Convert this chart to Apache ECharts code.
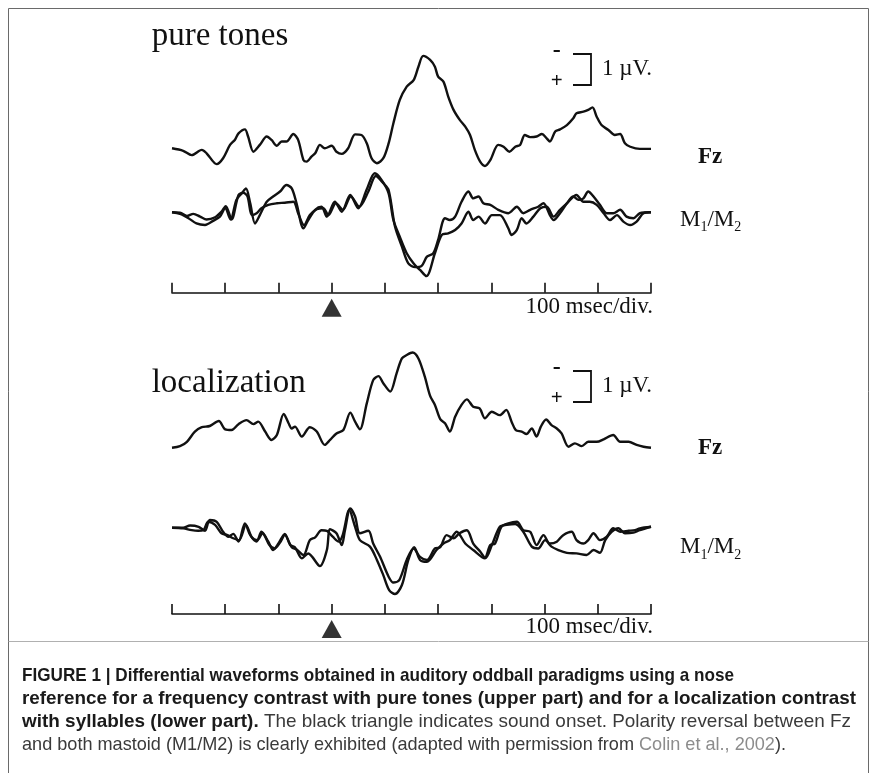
<!DOCTYPE html>
<html><head><meta charset="utf-8">
<script src="https://cdn.jsdelivr.net/npm/echarts@6/dist/echarts.min.js"></script>
<style>html,body{margin:0;padding:0;background:#fff}#c{width:883px;height:773px}</style>
</head><body><div id="c"></div>
<script>
// time axis (ms), 100 ms per division, sound onset at 0
const timeMin = -300, timeMax = 600, timeStep = 100;
const onset = [[0, 0.5]];

// values in µV (negative plotted upward)
const topFz = [[-300,0],[-279,0.08],[-263,0.22],[-244,0.05],[-235,0.16],[-216,0.51],[-204,0.32],[-191,-0.11],[-182,-0.27],[-175,-0.48],[-163,-0.61],[-157,-0.38],[-147,0.11],[-135,-0.11],[-122,-0.38],[-113,-0.27],[-103,-0.08],[-94,-0.22],[-85,-0.22],[-72,-0.46],[-63,-0.27],[-53,0.38],[-47,0.43],[-38,0.27],[-31,0.16],[-22,-0.11],[-13,0],[0,-0.08],[9,0.11],[19,0.18],[31,0],[44,-0.45],[56,-0.43],[66,-0.16],[75,0.32],[85,0.48],[97,0.32],[107,-0.16],[116,-0.81],[128,-1.56],[141,-1.99],[154,-2.2],[163,-2.63],[172,-2.98],[185,-2.85],[194,-2.63],[200,-2.31],[210,-2.15],[219,-1.67],[229,-1.24],[241,-0.91],[251,-0.7],[260,-0.43],[269,0.05],[279,0.43],[288,0.57],[298,0.38],[313,-0.11],[323,-0.05],[334,0.11],[345,-0.05],[354,-0.11],[363,-0.43],[373,-0.36],[385,-0.38],[395,-0.46],[404,-0.32],[410,-0.22],[420,-0.54],[429,-0.61],[442,-0.75],[454,-0.97],[460,-1.13],[473,-1.18],[482,-1.24],[490,-1.32],[498,-1.02],[507,-0.75],[520,-0.59],[532,-0.43],[542,-0.46],[551,-0.16],[561,-0.05],[579,0.02],[600,0.02]];

const topM1 = [[-300,0],[-285,0.05],[-269,0.19],[-254,0.36],[-238,0.41],[-222,0.27],[-210,0.14],[-200,-0.13],[-190,0.23],[-179,-0.4],[-169,-0.61],[-161,-0.77],[-153,-0.29],[-144,0.36],[-135,0.09],[-122,-0.34],[-110,-0.51],[-97,-0.67],[-85,-0.88],[-75,-0.77],[-66,-0.29],[-53,0.52],[-44,0.25],[-31,-0.08],[-19,-0.18],[-9,0.14],[6,-0.34],[19,-0.02],[35,-0.56],[50,-0.13],[66,-0.74],[81,-1.26],[94,-1.04],[107,-0.61],[116,0.25],[128,0.79],[141,1.32],[154,1.65],[166,1.86],[178,2.06],[194,1.32],[207,0.73],[219,0.68],[232,0.57],[244,0.36],[257,-0.02],[266,0.25],[276,0.14],[288,0.36],[301,0.09],[316,0.09],[332,0.52],[338,0.73],[348,0.57],[357,0.19],[366,0.36],[379,0.14],[392,-0.13],[404,-0.18],[417,0.14],[429,-0.08],[442,-0.29],[460,-0.56],[473,-0.34],[485,-0.34],[498,-0.24],[511,0.03],[523,0.25],[536,0.09],[548,0.3],[561,0.41],[573,0.3],[586,0.03],[600,0]];

const topM2 = [[-300,0],[-285,0.01],[-272,0.12],[-260,0.05],[-247,0.14],[-235,0.23],[-219,0.16],[-207,-0.02],[-199,-0.2],[-188,0.23],[-175,-0.56],[-166,-0.63],[-158,-0.51],[-150,0.09],[-141,0.03],[-132,-0.13],[-119,-0.24],[-103,-0.29],[-88,-0.31],[-72,-0.34],[-63,0.03],[-52,0.41],[-41,0.09],[-28,-0.1],[-16,-0.13],[-6,0.09],[8,-0.29],[21,-0.08],[36,-0.51],[52,-0.18],[69,-0.67],[83,-1.17],[97,-0.94],[107,-0.72],[119,0.46],[132,1.11],[144,1.65],[157,1.77],[169,1.73],[179,1.43],[191,1.32],[200,0.89],[213,0.19],[222,0.25],[232,0.14],[244,-0.34],[257,-0.67],[266,-0.45],[276,-0.51],[285,-0.29],[298,-0.24],[313,-0.08],[332,0.03],[348,-0.18],[360,0.03],[373,-0.08],[388,-0.18],[398,-0.29],[410,0.09],[417,0.25],[429,0.03],[442,-0.29],[454,-0.51],[464,-0.4],[473,-0.45],[482,-0.67],[492,-0.51],[504,-0.24],[517,0.03],[529,0.03],[542,-0.08],[554,0.14],[567,0.19],[579,0.03],[600,0]];

const botFz = [[-300,0],[-285,-0.05],[-272,-0.19],[-257,-0.52],[-244,-0.66],[-229,-0.7],[-212,-0.86],[-200,-0.59],[-188,-0.57],[-175,-0.76],[-160,-0.89],[-147,-0.76],[-138,-0.84],[-125,-0.52],[-113,-0.25],[-103,-0.41],[-90,-1.09],[-81,-0.79],[-75,-0.62],[-69,-0.68],[-56,-0.36],[-41,-0.66],[-28,-0.52],[-13,-0.09],[-3,-0.25],[9,-0.46],[22,-0.57],[35,-1.13],[44,-0.84],[53,-0.59],[66,-1.43],[78,-2.18],[88,-2.31],[97,-2.08],[110,-1.81],[122,-2.4],[132,-2.88],[141,-2.99],[152,-3.07],[163,-2.88],[175,-2.29],[185,-1.67],[194,-1.38],[204,-0.92],[213,-0.79],[222,-0.52],[232,-1.0],[244,-1.38],[254,-1.56],[266,-1.32],[278,-1.27],[288,-0.95],[301,-1.16],[316,-1.05],[328,-1.22],[338,-0.84],[346,-0.57],[357,-0.52],[366,-0.44],[376,-0.62],[385,-0.36],[393,-0.68],[403,-0.91],[413,-0.73],[423,-0.62],[432,-0.46],[445,-0.03],[457,-0.14],[470,-0.05],[482,-0.19],[498,-0.19],[511,-0.27],[529,-0.41],[542,-0.19],[558,-0.19],[573,-0.09],[586,-0.03],[600,0]];

const botM1 = [[-300,0],[-279,0],[-266,-0.07],[-250,-0.03],[-238,0.1],[-229,-0.25],[-216,-0.19],[-204,0.13],[-194,0.29],[-185,0.2],[-175,0.45],[-163,-0.14],[-153,0.24],[-141,0.45],[-132,0.13],[-119,0.45],[-110,0.72],[-100,0.51],[-88,0.2],[-78,0.56],[-69,0.63],[-56,0.99],[-44,0.83],[-22,1.24],[-9,0.72],[-3,0.05],[9,0.18],[19,0.56],[25,0.08],[35,-0.62],[44,-0.36],[53,0.18],[69,0.1],[78,0.51],[91,0.94],[107,1.58],[116,1.77],[127,1.69],[141,1.04],[154,0.67],[166,0.94],[179,1.04],[194,0.67],[204,0.63],[216,0.24],[229,0.34],[240,0.18],[254,0.08],[266,0.51],[279,0.77],[288,0.96],[298,0.56],[307,0.51],[319,-0.03],[332,-0.14],[348,-0.19],[360,0.08],[373,0.13],[385,0.56],[398,0.24],[410,0.51],[423,0.45],[435,0.24],[451,0.13],[460,0.4],[473,0.51],[482,0.4],[492,0.18],[504,0.4],[517,0.29],[529,0.02],[542,0.13],[558,0.1],[570,0.08],[579,0.02],[600,-0.03]];

const botM2 = [[-300,0],[-279,0.02],[-263,0.08],[-251,0.1],[-241,0.08],[-232,-0.19],[-219,-0.09],[-207,0.18],[-196,0.24],[-185,0.34],[-174,0.4],[-161,-0.09],[-150,0.31],[-140,0.4],[-130,0.18],[-117,0.56],[-107,0.67],[-97,0.48],[-88,0.24],[-75,0.63],[-66,0.7],[-53,0.88],[-41,0.4],[-31,0.31],[-19,0.08],[-9,0.1],[2,0.29],[13,0.45],[21,0.22],[33,-0.57],[44,-0.03],[53,0.4],[72,0.61],[85,1.04],[97,1.53],[108,2.01],[119,2.14],[132,1.85],[144,1.04],[155,0.63],[166,1.04],[179,1.1],[197,0.72],[210,0.51],[222,0.4],[235,0.13],[251,0.51],[266,0.72],[288,0.99],[301,0.56],[316,-0.03],[329,-0.09],[345,-0.12],[360,0.13],[376,0.61],[388,0.67],[401,0.4],[413,0.61],[426,0.72],[442,0.81],[460,0.83],[479,0.88],[492,0.72],[504,0.81],[514,0.4],[526,0.13],[539,0.02],[551,0.18],[567,0.16],[579,0.08],[600,-0.03]];

// texts
const panelTitles = ['pure tones', 'localization'];
const scaleText = '1 \u00B5V.';
const axisText = '100 msec/div.';
const captionLines = [
  '{b|FIGURE 1 | Differential waveforms obtained in auditory oddball paradigms using a nose}',
  '{b|reference for a frequency contrast with pure tones (upper part) and for a localization contrast}',
  '{b|with syllables (lower part).}{r| The black triangle indicates sound onset. Polarity reversal between Fz}',
  '{r|and both mastoid (M1/M2) is clearly exhibited (adapted with permission from }{g|Colin et al., 2002}{r|).}'
];

// ---------- layout ----------
const SERIF = '"Liberation Serif", "Times New Roman", serif';
const SANS = '"Liberation Sans", Arial, sans-serif';
const PX = {left: 172, width: 479};
const gridDefs = [
  {top: 39.8, height: 155, min: -3.5, max: 1.5},   // Fz top
  {top: 165.8, height: 124, min: -1.5, max: 2.5},  // M top
  {top: 339.2, height: 139.5, min: -3.5, max: 1.0},// Fz bottom
  {top: 481.2, height: 124, min: -1.5, max: 2.5}   // M bottom
];
const axisGrids = [{top: 292.7, height: 30}, {top: 614, height: 30}];

const grid = [], xAxis = [], yAxis = [];
gridDefs.forEach(g => {
  grid.push({left: PX.left, width: PX.width, top: g.top, height: g.height});
  xAxis.push({type: 'value', gridIndex: grid.length - 1, min: timeMin, max: timeMax, show: false});
  yAxis.push({type: 'value', gridIndex: grid.length - 1, min: g.min, max: g.max, inverse: true, show: false});
});
axisGrids.forEach(g => {
  grid.push({left: PX.left, width: PX.width, top: g.top, height: g.height});
  xAxis.push({
    type: 'value', gridIndex: grid.length - 1, position: 'top', min: timeMin, max: timeMax, interval: timeStep,
    axisLine: {show: true, onZero: false, lineStyle: {color: '#111', width: 1.6}},
    axisTick: {show: true, length: 10, lineStyle: {color: '#111', width: 1.6}},
    axisLabel: {show: false}, splitLine: {show: false}
  });
  yAxis.push({type: 'value', gridIndex: grid.length - 1, min: 0, max: 1, show: false});
});

function wave(data, idx) {
  return {type: 'line', xAxisIndex: idx, yAxisIndex: idx, data: data, showSymbol: false, smooth: 0.3,
    clip: false, silent: true, animation: false, lineStyle: {color: '#111', width: 2.4}};
}
function tri(idx) {
  return {type: 'scatter', xAxisIndex: idx, yAxisIndex: idx, data: onset, symbol: 'triangle',
    symbolSize: [20, 18], itemStyle: {color: '#000'}, silent: true, animation: false};
}
const series = [wave(topFz, 0), wave(topM1, 1), wave(topM2, 1), wave(botFz, 2), wave(botM1, 3), wave(botM2, 3), tri(4), tri(5)];

// caption width fitting (condensed face)
const CF = 19;
const cv = document.createElement('canvas').getContext('2d');
const richFonts = {b: 'bold ' + CF + 'px ' + SANS, r: CF + 'px ' + SANS, g: CF + 'px ' + SANS};
const captionTargets = [712, 834, 829, 764];
const captionY = [676, 699, 722, 745];
function measureRich(str) {
  let w = 0; const re = /\{([a-z]+)\|([^}]*)\}/g; let m;
  while ((m = re.exec(str))) { cv.font = richFonts[m[1]]; w += cv.measureText(m[2]).width; }
  return w;
}
const rich = {
  b: {fontFamily: SANS, fontSize: CF, fontWeight: 'bold', fill: '#1a1a1a'},
  r: {fontFamily: SANS, fontSize: CF, fill: '#3a3a3a'},
  g: {fontFamily: SANS, fontSize: CF, fill: '#8c8c8c'}
};
const captionEls = captionLines.map((s, i) => ({
  type: 'group', x: 22, y: captionY[i], scaleX: captionTargets[i] / measureRich(s),
  children: [{type: 'text', x: 0, y: 0, style: {text: s, rich: rich, verticalAlign: 'middle', align: 'left'}}]
}));

function txt(x, y, text, size, opts) {
  return {type: 'text', x: x, y: y, silent: true, style: Object.assign({text: text, fontFamily: SERIF, fontSize: size,
    fill: '#111', verticalAlign: 'middle', align: 'left'}, opts || {})};
}
function bracket(yTop, yBot) {
  return {type: 'polyline', silent: true, shape: {points: [[573, yTop], [591, yTop], [591, yBot], [573, yBot]]},
    style: {stroke: '#111', lineWidth: 1.8, fill: null}};
}
const mRich = {
  m: {fontFamily: SERIF, fontSize: 23, lineHeight: 30, fill: '#111'},
  s: {fontFamily: SERIF, fontSize: 14, lineHeight: 14, verticalAlign: 'bottom', fill: '#111'}
};
const graphic = [
  {type: 'rect', silent: true, shape: {x: 8.5, y: 8.5, width: 860, height: 780}, style: {stroke: '#6a6a6a', lineWidth: 1, fill: null}},
  {type: 'line', silent: true, shape: {x1: 8.5, y1: 641.5, x2: 868.5, y2: 641.5}, style: {stroke: '#b0b0b0', lineWidth: 1}},
  txt(151.7, 36.8, panelTitles[0], 33),
  txt(151.7, 383.8, panelTitles[1], 33),
  bracket(54, 85), bracket(371, 402),
  txt(556.7, 51, '-', 24, {fontWeight: 'bold', align: 'center'}),
  txt(556.7, 82, '+', 21, {fontWeight: 'bold', align: 'center'}),
  txt(556.7, 368, '-', 24, {fontWeight: 'bold', align: 'center'}),
  txt(556.7, 399, '+', 21, {fontWeight: 'bold', align: 'center'}),
  txt(602, 68.9, scaleText, 23),
  txt(602, 385.5, scaleText, 23),
  txt(653, 306.5, axisText, 23, {align: 'right'}),
  txt(653, 627.2, axisText, 23, {align: 'right'}),
  txt(698, 156.9, 'Fz', 23, {fontWeight: 'bold'}),
  txt(698, 447.9, 'Fz', 23, {fontWeight: 'bold'}),
  {type: 'text', x: 680, y: 219.6, silent: true, style: {text: '{m|M}{s|1}{m|/M}{s|2}', rich: mRich, verticalAlign: 'middle'}},
  {type: 'text', x: 680, y: 546.9, silent: true, style: {text: '{m|M}{s|1}{m|/M}{s|2}', rich: mRich, verticalAlign: 'middle'}}
].concat(captionEls);

const chart = echarts.init(document.getElementById('c'), null, {renderer: 'canvas'});
chart.setOption({animation: false, backgroundColor: '#fff', grid, xAxis, yAxis, series, graphic});
</script></body></html>
